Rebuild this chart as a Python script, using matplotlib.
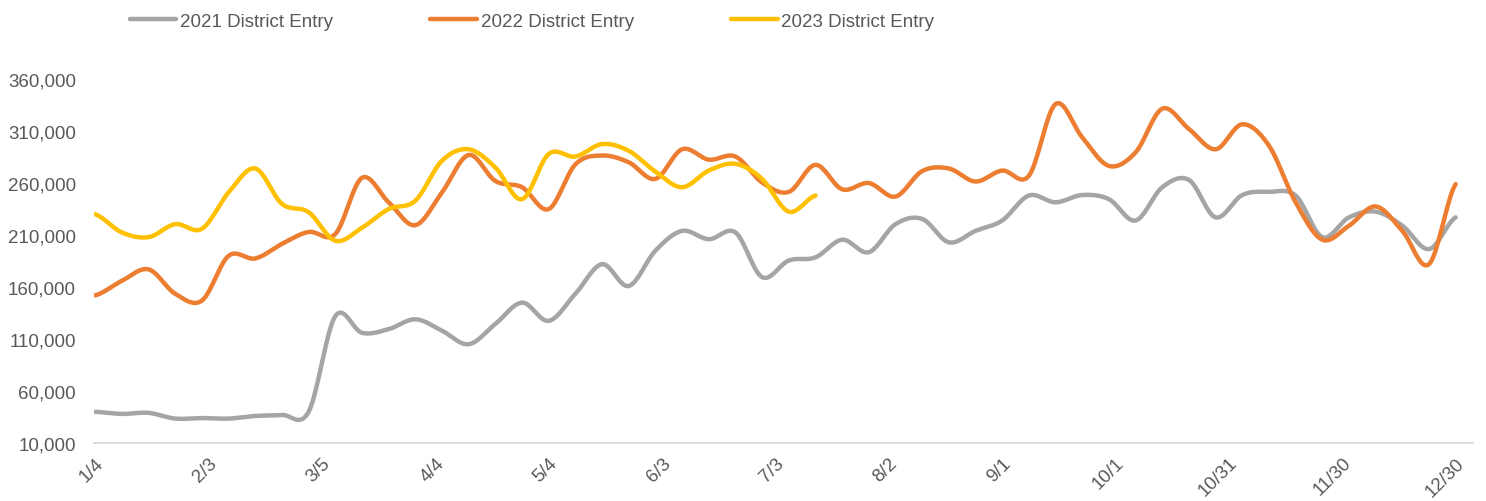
import numpy as np
import matplotlib
matplotlib.use("Agg")
import matplotlib.pyplot as plt

# weekly district entry counts
entry_2021 = [40000, 38000, 39000, 33500, 34000, 33500, 36000, 37000, 40000, 132000,
              116000, 119500, 129000, 118000, 105000, 124500, 145000, 127500, 153500, 182000,
              161000, 195000, 214000, 206000, 212500, 169500, 185500, 188500, 205500, 193500,
              220500, 225500, 203000, 214000, 224000, 248000, 241500, 248500, 244500, 224000,
              256000, 263000, 227000, 248500, 251500, 248000, 208000, 227000, 232500, 219000,
              196500, 227000]
entry_2022 = [152000, 166000, 177000, 153500, 147000, 190000, 187500, 201500, 213000, 211000,
              265000, 241500, 219500, 251000, 287000, 262000, 256000, 235000, 278000, 286500,
              280000, 264000, 292500, 282500, 285500, 260500, 251500, 277500, 254000, 260000,
              247000, 271500, 274000, 261500, 272000, 267000, 336000, 304000, 276500, 289500,
              331500, 312000, 292500, 316500, 296000, 241500, 205500, 219000, 237500, 214000,
              182000, 259000]
entry_2023 = [230000, 212500, 208000, 220500, 216000, 251000, 274000, 240000, 232000, 204500,
              217000, 235000, 243000, 281500, 292500, 275000, 244500, 288000, 285500, 297500,
              291000, 271000, 256000, 272000, 278500, 264000, 232500, 248000]

tick_days = [0, 30, 60, 90, 120, 150, 180, 210, 240, 270, 300, 330, 360]
tick_labels = ["1/4", "2/3", "3/5", "4/4", "5/4", "6/3", "7/3", "8/2", "9/1",
               "10/1", "10/31", "11/30", "12/30"]
series_names = ["2021 District Entry", "2022 District Entry", "2023 District Entry"]
series_colors = ["#A5A5A5", "#ED7D31", "#FFC000"]


# Catmull-Rom smoothing, similar to Excel's "smoothed line"
def smooth(x, y, steps=20):
    x = np.asarray(x, float)
    y = np.asarray(y, float)
    px = np.concatenate([[2 * x[0] - x[1]], x, [2 * x[-1] - x[-2]]])
    py = np.concatenate([[y[0]], y, [y[-1]]])
    xs, ys = [], []
    t = np.linspace(0, 1, steps, endpoint=False)
    for i in range(1, len(px) - 2):
        p0, p1, p2, p3 = py[i - 1], py[i], py[i + 1], py[i + 2]
        q0, q1, q2, q3 = px[i - 1], px[i], px[i + 1], px[i + 2]
        h00 = 2 * t**3 - 3 * t**2 + 1
        h10 = t**3 - 2 * t**2 + t
        h01 = -2 * t**3 + 3 * t**2
        h11 = t**3 - t**2
        ys.append(h00 * p1 + h10 * (p2 - p0) / 2 + h01 * p2 + h11 * (p3 - p1) / 2)
        xs.append(h00 * q1 + h10 * (q2 - q0) / 2 + h01 * q2 + h11 * (q3 - q1) / 2)
    xs.append([x[-1]])
    ys.append([y[-1]])
    return np.concatenate(xs), np.concatenate(ys)


plt.rcParams["font.family"] = ["Liberation Sans", "DejaVu Sans"]

fig = plt.figure(figsize=(14.86, 5.02), dpi=100)
ax = fig.add_axes([0.0633, 0.1155, 0.928, 0.725])

n_full = len(entry_2021)
days = np.linspace(0, 360, n_full)

for vals, name, color in zip([entry_2021, entry_2022, entry_2023], series_names, series_colors):
    sx, sy = smooth(days[:len(vals)], vals)
    ax.plot(sx, sy, color=color, linewidth=3.2, label=name, solid_capstyle="round")

ax.set_xlim(-0.3, 364.6)
ax.set_ylim(10000, 360000)
ax.set_yticks(np.arange(10000, 360001, 50000))
ax.yaxis.set_major_formatter(matplotlib.ticker.FuncFormatter(lambda v, p: f"{int(v):,}"))
ax.set_xticks(tick_days)
ax.set_xticklabels(tick_labels, rotation=45, ha="right", va="top", rotation_mode="anchor")

for s in ["top", "right", "left"]:
    ax.spines[s].set_visible(False)
ax.spines["bottom"].set_color("#D9D9D9")
ax.spines["bottom"].set_linewidth(1.3)
ax.tick_params(axis="both", length=0, labelsize=13.5, colors="#595959")
ax.tick_params(axis="y", pad=13)
ax.tick_params(axis="x", pad=8)

fig.legend(loc="center", bbox_to_anchor=(0.358, 0.956), ncol=3, frameon=False,
           fontsize=13.5, handlelength=2.5, handletextpad=0.18, columnspacing=5.2,
           labelcolor="#595959")

fig.savefig("out.png", dpi=100)
